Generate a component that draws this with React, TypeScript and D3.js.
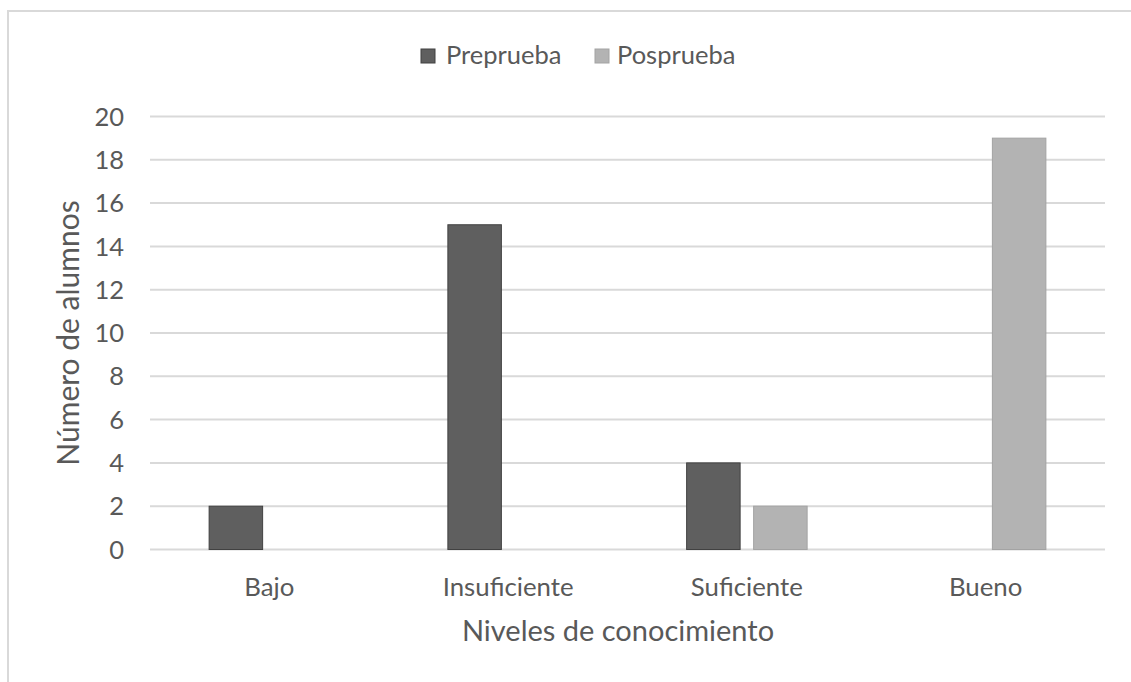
import React from "react";
import * as d3 from "d3";

const categories = ["Bajo", "Insuficiente", "Suficiente", "Bueno"];
const seriesNames = ["Preprueba", "Posprueba"];
const preprueba = [2, 15, 4, 0];
const posprueba = [0, 0, 2, 19];
const yTicks = [0, 2, 4, 6, 8, 10, 12, 14, 16, 18, 20];

const W = 1131;
const H = 682;
const plot = { left: 150, right: 1105, top: 116.5, bottom: 549.5 };
const FONT = "Lato, Carlito, Calibri, sans-serif";
const TEXT = "#595959";
const GRID = "#d9d9d9";
const fills = ["#5f5f5f", "#b3b3b3"];
const strokes = ["#414141", "#a3a3a3"];

export default function App() {
  const x = d3.scaleBand<string>().domain(categories).range([plot.left, plot.right]).padding(0);
  const y = d3.scaleLinear().domain([0, 20]).range([plot.bottom, plot.top]);
  const inner = d3
    .scaleBand<string>()
    .domain(seriesNames)
    .range([-60.25, 60.25])
    .paddingInner(0.2015)
    .paddingOuter(0);
  const values = [preprueba, posprueba];

  return (
    <svg
      width={W}
      height={H}
      style={{ position: "absolute", left: 0, top: 0, display: "block", background: "#fff" }}
      fontFamily={FONT}
    >
      <rect x={8} y={11} width={W + 20} height={H + 20} fill="#fff" stroke={GRID} strokeWidth={2} />

      {/* legend */}
      <g>
        <rect x={421} y={49} width={14} height={14} fill={fills[0]} stroke={strokes[0]} strokeWidth={1} />
        <text x={446} y={64} fontSize={25.5} fill={TEXT}>Preprueba</text>
        <rect x={595} y={49} width={14} height={14} fill={fills[1]} stroke={strokes[1]} strokeWidth={1} />
        <text x={617} y={64} fontSize={25.5} fill={TEXT}>Posprueba</text>
      </g>

      {/* gridlines and y tick labels */}
      {yTicks.map((t) => (
        <g key={t}>
          <line x1={plot.left} x2={plot.right} y1={y(t)} y2={y(t)} stroke={GRID} strokeWidth={2} />
          <text x={124} y={y(t)} dy="0.36em" textAnchor="end" fontSize={25.5} fill={TEXT}>
            {t}
          </text>
        </g>
      ))}

      {/* bars */}
      {categories.map((c, i) => {
        const cx = (x(c) as number) + x.bandwidth() / 2;
        return (
          <g key={c}>
            {seriesNames.map((s, j) => {
              const v = values[j][i];
              if (v <= 0) return null;
              return (
                <rect
                  key={s}
                  x={cx + (inner(s) as number)}
                  y={y(v)}
                  width={inner.bandwidth()}
                  height={y(0) - y(v)}
                  fill={fills[j]}
                  stroke={strokes[j]}
                  strokeWidth={1}
                />
              );
            })}
            <text x={cx} y={596} textAnchor="middle" fontSize={25.8} fill={TEXT}>
              {c}
            </text>
          </g>
        );
      })}

      {/* axis titles */}
      <text x={618} y={641} textAnchor="middle" fontSize={29} fill={TEXT}>
        Niveles de conocimiento
      </text>
      <text
        transform={`translate(79, ${(plot.top + plot.bottom) / 2}) rotate(-90)`}
        textAnchor="middle"
        fontSize={30}
        fill={TEXT}
      >
        Número de alumnos
      </text>
    </svg>
  );
}
